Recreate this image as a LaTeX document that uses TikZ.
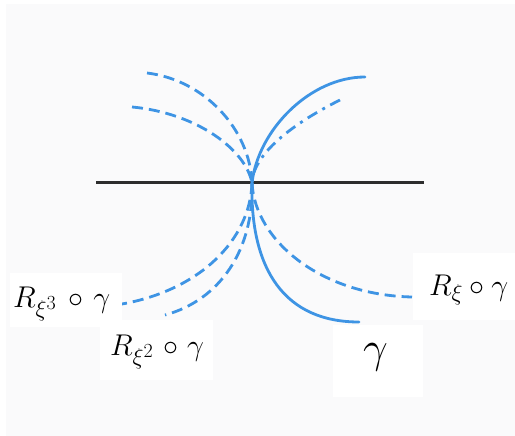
\documentclass[tikz,border=0pt]{standalone}
\usepackage{fix-cm}
\usepackage{amsmath}
\DeclareMathSizes{30}{30}{23}{20}
\definecolor{curveblue}{RGB}{62,148,228}
\definecolor{axisgray}{RGB}{45,45,45}
\definecolor{bggray}{RGB}{250,250,251}
\begin{document}
\begin{tikzpicture}[x=1pt,y=-1pt,
  curve/.style={curveblue,line width=2.8pt,line cap=round},
  dashcurve/.style={curve,line cap=butt,dash pattern=on 11pt off 6pt},
  dotdash/.style={curve,line cap=butt,dash pattern=on 11pt off 6pt on 3pt off 6pt},
  labelbox/.style={fill=white},
  lbl/.style={inner sep=0pt,anchor=base west,font=\fontsize{30}{36}\selectfont}]
\useasboundingbox (0,0) rectangle (515,436);
\fill[white] (0,0) rectangle (515,436);
\fill[bggray] (6,4) rectangle (515,436);
% axis
\coordinate (axL) at (96,183);
\coordinate (axR) at (424,183);
\coordinate (c) at (252,183);
\draw[axisgray,line width=3pt] (axL) -- (axR);
% end points
\coordinate (gU) at (365,77);
\coordinate (gD) at (359,322);
\coordinate (r1U) at (340,100);
\coordinate (r1D) at (412,297);
\coordinate (r2U) at (147,73);
\coordinate (r2D) at (165,315);
\coordinate (r3U) at (132,107);
\coordinate (r3D) at (122,304);
% gamma (solid)
\draw[curve] (gU) .. controls (310,77) and (258,130) .. (c)
  .. controls (250,270) and (285,322) .. (gD);
% R_xi gamma
\draw[dotdash] (r1U) .. controls (290,125) and (253,155) .. (c);
\draw[dashcurve] (c) .. controls (255,240) and (320,295) .. (r1D);
% R_xi^2 gamma
\draw[dashcurve] (r2U) .. controls (205,80) and (250,130) .. (c);
\draw[dashcurve] (c) .. controls (254,250) and (220,300) .. (r2D);
% R_xi^3 gamma
\draw[dashcurve] (r3U) .. controls (197,113) and (246,150) .. (c);
\draw[dashcurve] (c) .. controls (250,240) and (200,290) .. (r3D);
% label boxes
\fill[labelbox] (10,273) rectangle (122,327);
\fill[labelbox] (100,320) rectangle (213,380);
\fill[labelbox] (413,253) rectangle (515,320);
\fill[labelbox] (333,325) rectangle (423,397);
% labels
\node[lbl] (l3) at (13,307) {$R_{\xi^3}\mkern3mu\circ\mkern2mu\gamma$};
\node[lbl] (l2) at (110,355) {$R_{\xi^2}\mkern2mu\circ\mkern1mu\gamma$};
\node[lbl] (l1) at (429,295) {$R_{\xi}\circ\gamma$};
\node[lbl,font=\fontsize{44}{50}\selectfont] (lg) at (363,362) {$\gamma$};
\end{tikzpicture}
\end{document}
